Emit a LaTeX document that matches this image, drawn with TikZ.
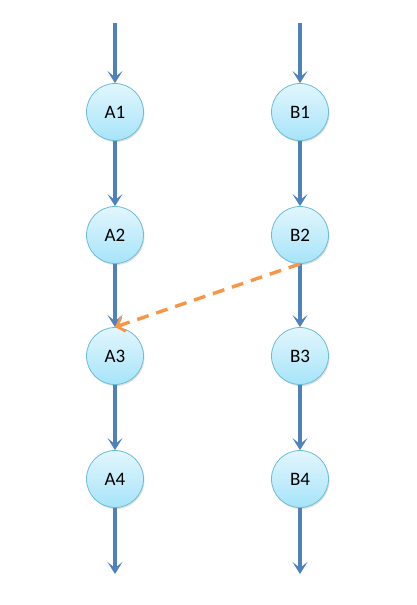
\documentclass[tikz,border=0pt]{standalone}
\usepackage{fontspec}
\setmainfont{Carlito}
\usetikzlibrary{arrows.meta,shadows}
\definecolor{lineblue}{HTML}{4F81BD}
\definecolor{ringc}{HTML}{6BBCD6}
\definecolor{topc}{HTML}{E2F6FD}
\definecolor{botc}{HTML}{A6E4FA}
\definecolor{orng}{HTML}{F79646}
\tikzset{
  state/.style={circle, minimum size=57pt, inner sep=0pt, draw=ringc, line width=0.8pt,
    top color=topc, bottom color=botc, font=\fontsize{19pt}{21pt}\selectfont,
    drop shadow={shadow xshift=1pt, shadow yshift=-1.5pt, opacity=0.25, fill=gray}},
  flow/.style={draw=lineblue, line width=3.6pt, -{Stealth[length=12pt,width=15pt,inset=6pt]}},
  cross/.style={draw=orng, line width=3.4pt, dash pattern=on 12pt off 8pt,
    -{Straight Barb[length=7pt,width=15pt,line width=2.8pt]}}
}
\begin{document}
\begin{tikzpicture}[x=1pt,y=-1pt]
\useasboundingbox (0,0) rectangle (416,605);
\node[state] (A1) at (115,112) {A1};
\node[state] (A2) at (115,235) {A2};
\node[state] (A3) at (115,356) {A3};
\node[state] (A4) at (115,479) {A4};
\node[state] (B1) at (300,112) {B1};
\node[state] (B2) at (300,235) {B2};
\node[state] (B3) at (300,356) {B3};
\node[state] (B4) at (300,479) {B4};
\coordinate (At) at (115,23);
\coordinate (Ab) at (115,574);
\coordinate (Bt) at (300,23);
\coordinate (Bb) at (300,574);
\draw[flow] (At) -- (A1);
\draw[flow] (A1) -- (A2);
\draw[flow] (A2) -- (A3);
\draw[flow] (A3) -- (A4);
\draw[flow] (A4) -- (Ab);
\draw[flow] (Bt) -- (B1);
\draw[flow] (B1) -- (B2);
\draw[flow] (B2) -- (B3);
\draw[flow] (B3) -- (B4);
\draw[flow] (B4) -- (Bb);
\draw[cross] (B2.south) -- (A3.north);
\end{tikzpicture}
\end{document}
